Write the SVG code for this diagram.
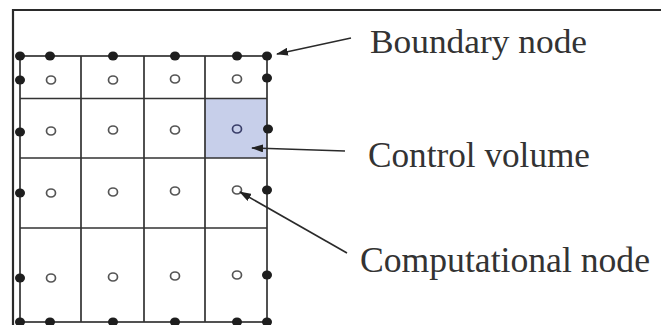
<svg xmlns="http://www.w3.org/2000/svg" width="661" height="325" viewBox="0 0 661 325">
<defs>
<style>
.frame{fill:none;stroke:#2a2a2a;stroke-width:2.2}
.grid{fill:none;stroke:#333;stroke-width:1.7}
.bn{fill:#1e1e1e}
.cn{fill:none;stroke:#555;stroke-width:1.7}
.lbl{font-family:"Liberation Serif","Times New Roman",serif;fill:#333}
.arr{fill:none;stroke:#2a2a2a;stroke-width:1.6}
</style>
<marker id="ah" viewBox="0 0 12 8" refX="11" refY="4" markerWidth="12" markerHeight="8" markerUnits="userSpaceOnUse" orient="auto">
<path d="M0,0 L12,4 L0,8 Z" fill="#222"/>
</marker>
</defs>
<rect width="661" height="325" fill="#ffffff"/>
<path class="frame" d="M13,325 V10 H661"/>
<g id="control-volume">
<rect x="205" y="98.5" width="62" height="59.5" fill="#c7cfea"/>
</g>
<g id="grid">
<rect class="grid" x="20" y="56" width="247" height="266"/>
<path class="grid" d="M81,56 V322 M144,56 V322 M205,56 V322 M20,98.5 H267 M20,158 H267 M20,228 H267"/>
</g>
<g id="computational-nodes">
<ellipse class="cn" cx="51" cy="80" rx="4.5" ry="4"/>
<ellipse class="cn" cx="113" cy="80" rx="4.5" ry="4"/>
<ellipse class="cn" cx="175" cy="79" rx="4.5" ry="4"/>
<ellipse class="cn" cx="237" cy="79" rx="4.5" ry="4"/>
<ellipse class="cn" cx="51" cy="131" rx="4.5" ry="4"/>
<ellipse class="cn" cx="113" cy="130" rx="4.5" ry="4"/>
<ellipse class="cn" cx="175" cy="130" rx="4.5" ry="4"/>
<ellipse class="cn" cx="237" cy="129" rx="4.5" ry="4" style="stroke:#3a3f6a"/>
<ellipse class="cn" cx="51" cy="193" rx="4.5" ry="4"/>
<ellipse class="cn" cx="113" cy="192" rx="4.5" ry="4"/>
<ellipse class="cn" cx="175" cy="191" rx="4.5" ry="4"/>
<ellipse class="cn" cx="237" cy="190" rx="4.5" ry="4"/>
<ellipse class="cn" cx="51" cy="278" rx="4.5" ry="4"/>
<ellipse class="cn" cx="113" cy="277" rx="4.5" ry="4"/>
<ellipse class="cn" cx="175" cy="276" rx="4.5" ry="4"/>
<ellipse class="cn" cx="237" cy="275" rx="4.5" ry="4"/>
</g>
<g id="boundary-nodes">
<ellipse class="bn" cx="20" cy="56" rx="5" ry="4.5"/>
<ellipse class="bn" cx="50" cy="56" rx="5" ry="4.5"/>
<ellipse class="bn" cx="113" cy="56" rx="5" ry="4.5"/>
<ellipse class="bn" cx="175" cy="56" rx="5" ry="4.5"/>
<ellipse class="bn" cx="237" cy="56" rx="5" ry="4.5"/>
<ellipse class="bn" cx="267" cy="56" rx="5" ry="4.5"/>
<ellipse class="bn" cx="20" cy="80" rx="5" ry="4.5"/>
<ellipse class="bn" cx="20" cy="132" rx="5" ry="4.5"/>
<ellipse class="bn" cx="20" cy="193" rx="5" ry="4.5"/>
<ellipse class="bn" cx="20" cy="278" rx="5" ry="4.5"/>
<ellipse class="bn" cx="267" cy="78" rx="5" ry="4.5"/>
<ellipse class="bn" cx="268" cy="129" rx="5" ry="4.5"/>
<ellipse class="bn" cx="267" cy="190" rx="5" ry="4.5"/>
<ellipse class="bn" cx="267" cy="275" rx="5" ry="4.5"/>
<ellipse class="bn" cx="20" cy="322" rx="5" ry="4.5"/>
<ellipse class="bn" cx="50" cy="322" rx="5" ry="4.5"/>
<ellipse class="bn" cx="113" cy="322" rx="5" ry="4.5"/>
<ellipse class="bn" cx="175" cy="322" rx="5" ry="4.5"/>
<ellipse class="bn" cx="237" cy="322" rx="5" ry="4.5"/>
<ellipse class="bn" cx="267" cy="322" rx="5" ry="4.5"/>
</g>
<g id="connectors">
<line class="arr" x1="351" y1="38" x2="277" y2="54" marker-end="url(#ah)"/>
<line class="arr" x1="345" y1="151" x2="252" y2="148" marker-end="url(#ah)"/>
<line class="arr" x1="347" y1="253" x2="240" y2="192" marker-end="url(#ah)"/>
</g>
<g id="label-boundary-node">
<text class="lbl" font-size="33" x="370" y="53" textLength="217" lengthAdjust="spacingAndGlyphs">Boundary node</text>
</g>
<g id="label-control-volume">
<text class="lbl" font-size="35" x="368" y="167" textLength="222" lengthAdjust="spacingAndGlyphs">Control volume</text>
</g>
<g id="label-computational-node">
<text class="lbl" font-size="35" x="360" y="272" textLength="290" lengthAdjust="spacingAndGlyphs">Computational node</text>
</g>
</svg>
